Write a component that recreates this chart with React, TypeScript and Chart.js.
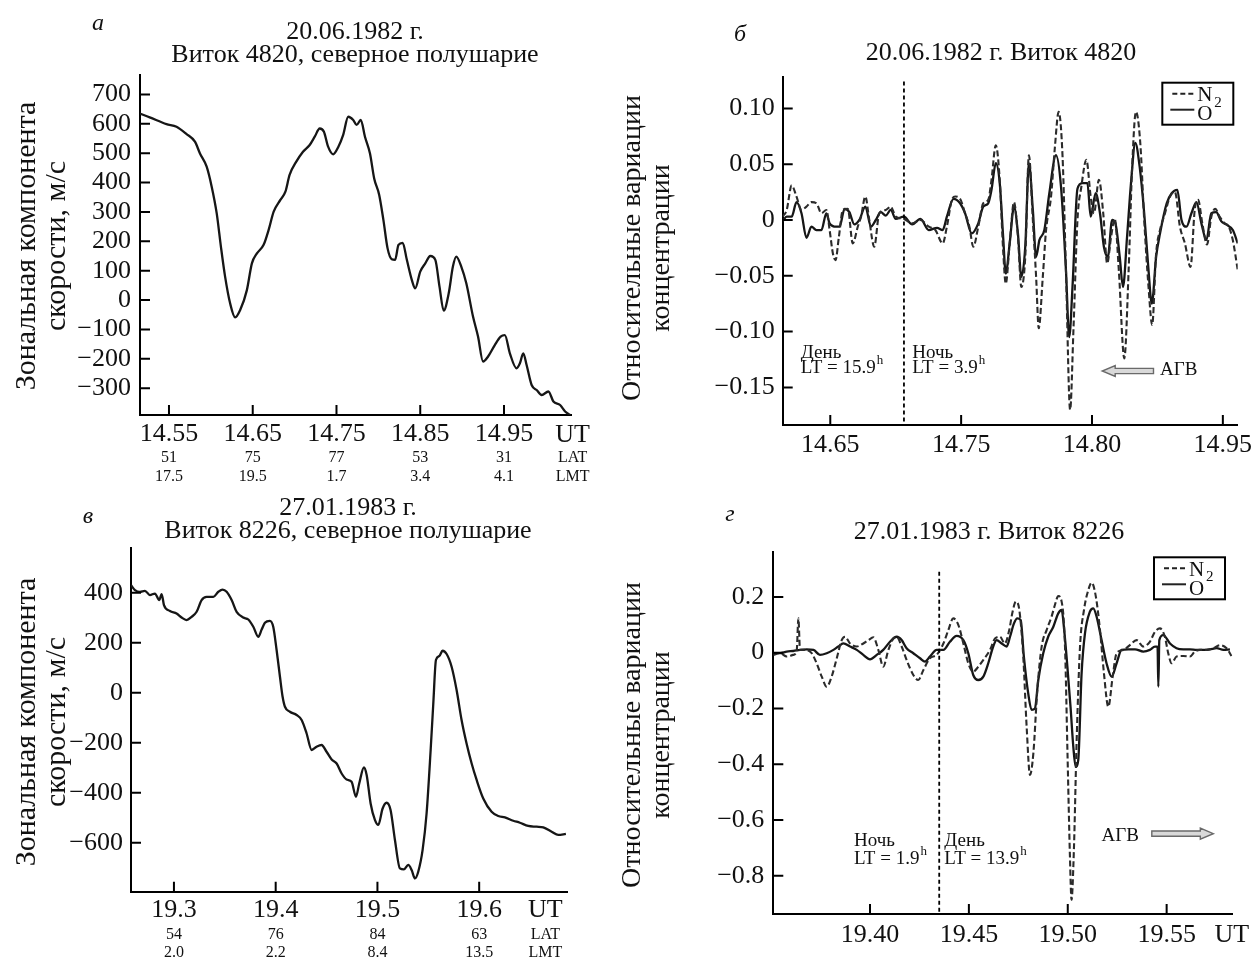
import React, { useEffect, useRef } from 'react';
import { Chart, registerables } from 'chart.js';

Chart.register(...registerables);

const SERIF = '"Liberation Serif", "Times New Roman", Times, serif';

// ---------- Panel а: zonal wind, orbit 4820 ----------
const aUT = [14.515, 14.527, 14.547, 14.559, 14.571, 14.581, 14.587, 14.595, 14.601, 14.607, 14.612, 14.617, 14.623, 14.629, 14.635, 14.643, 14.649, 14.655, 14.663, 14.669, 14.675, 14.683, 14.689, 14.694, 14.702, 14.710, 14.718, 14.724, 14.730, 14.735, 14.740, 14.746, 14.752, 14.758, 14.764, 14.770, 14.774, 14.779, 14.784, 14.790, 14.795, 14.801, 14.806, 14.811, 14.816, 14.820, 14.824, 14.829, 14.834, 14.840, 14.844, 14.850, 14.856, 14.862, 14.868, 14.873, 14.878, 14.884, 14.889, 14.893, 14.899, 14.905, 14.913, 14.919, 14.925, 14.931, 14.939, 14.946, 14.951, 14.957, 14.965, 14.969, 14.973, 14.977, 14.983, 14.989, 14.995, 15.003, 15.009, 15.017, 15.023, 15.029];
const aSpeed = [635, 622, 599, 590, 565, 539, 499, 454, 386, 295, 182, 80, -11, -59, -34, 34, 125, 159, 188, 239, 301, 341, 369, 426, 471, 505, 528, 556, 584, 573, 522, 496, 520, 562, 624, 613, 596, 613, 556, 499, 414, 358, 273, 176, 139, 137, 188, 195, 137, 68, 40, 97, 125, 150, 137, 46, -36, 23, 114, 148, 114, 57, -56, -124, -209, -192, -153, -124, -119, -181, -232, -215, -181, -221, -289, -306, -323, -311, -345, -357, -379, -391];
const aXTicks = [14.55, 14.65, 14.75, 14.85, 14.95];
const aYTicks = [-300, -200, -100, 0, 100, 200, 300, 400, 500, 600, 700];
const aLAT = ['51', '75', '77', '53', '31'];
const aLMT = ['17.5', '19.5', '1.7', '3.4', '4.1'];

// ---------- Panel б: relative density variations, orbit 4820 ----------
// x is expressed in tick-slot units: 0 -> "14.65", 1 -> "14.75", 2 -> "14.80", 3 -> "14.95"
const bXTickPos = [0, 1, 2, 3];
const bXTickLabels = ['14.65', '14.75', '14.80', '14.95'];
const bYTicks = [-0.15, -0.1, -0.05, 0, 0.05, 0.1];
const bN2X = [-0.364, -0.333, -0.295, -0.258, -0.220, -0.182, -0.144, -0.106, -0.068, -0.030, -0.005, 0.020, 0.040, 0.066, 0.096, 0.134, 0.172, 0.210, 0.235, 0.268, 0.298, 0.336, 0.374, 0.424, 0.462, 0.500, 0.563, 0.626, 0.689, 0.753, 0.803, 0.859, 0.891, 0.929, 0.955, 0.992, 1.030, 1.063, 1.093, 1.131, 1.169, 1.207, 1.232, 1.265, 1.295, 1.321, 1.341, 1.371, 1.404, 1.434, 1.460, 1.490, 1.518, 1.548, 1.573, 1.593, 1.624, 1.649, 1.687, 1.717, 1.745, 1.775, 1.801, 1.833, 1.859, 1.889, 1.919, 1.957, 1.990, 2.015, 2.053, 2.086, 2.116, 2.146, 2.174, 2.205, 2.247, 2.280, 2.306, 2.336, 2.369, 2.399, 2.432, 2.460, 2.490, 2.520, 2.558, 2.596, 2.634, 2.672, 2.710, 2.753, 2.785, 2.811, 2.843, 2.879, 2.912, 2.942, 2.975, 3.013, 3.045, 3.076, 3.114];
const bN2 = [0.003, 0.009, 0.031, 0.021, 0.009, 0.012, 0.016, 0.015, 0.006, 0.009, -0.009, -0.030, -0.036, -0.015, 0.009, 0.010, -0.021, -0.006, 0.003, 0.021, 0.000, -0.024, 0.006, 0.009, 0.012, 0.003, 0.001, -0.003, 0.000, -0.006, -0.009, -0.021, -0.006, 0.018, 0.021, 0.019, 0.006, -0.006, -0.024, -0.006, 0.015, 0.018, 0.036, 0.067, 0.036, -0.027, -0.057, -0.021, 0.016, -0.015, -0.060, -0.033, 0.058, 0.000, -0.051, -0.097, -0.051, -0.009, 0.021, 0.066, 0.097, 0.057, -0.045, -0.170, -0.096, 0.000, 0.030, 0.054, 0.021, 0.006, 0.036, 0.006, -0.039, -0.015, 0.001, -0.045, -0.124, -0.045, 0.045, 0.097, 0.069, 0.000, -0.060, -0.094, -0.030, -0.009, 0.006, 0.021, 0.025, -0.006, -0.021, -0.042, 0.009, 0.018, -0.003, -0.022, 0.003, 0.010, 0.003, -0.003, -0.006, -0.018, -0.045];
const bOX = [-0.364, -0.333, -0.295, -0.258, -0.220, -0.182, -0.144, -0.106, -0.068, -0.030, -0.005, 0.045, 0.071, 0.109, 0.146, 0.184, 0.222, 0.268, 0.311, 0.348, 0.386, 0.424, 0.462, 0.500, 0.563, 0.626, 0.689, 0.753, 0.816, 0.859, 0.891, 0.942, 0.992, 1.030, 1.081, 1.131, 1.169, 1.207, 1.232, 1.265, 1.295, 1.321, 1.341, 1.371, 1.404, 1.434, 1.460, 1.490, 1.518, 1.548, 1.573, 1.598, 1.636, 1.674, 1.725, 1.763, 1.801, 1.826, 1.851, 1.889, 1.927, 1.965, 1.990, 2.028, 2.061, 2.091, 2.121, 2.154, 2.179, 2.212, 2.237, 2.268, 2.298, 2.331, 2.364, 2.399, 2.432, 2.457, 2.490, 2.520, 2.571, 2.609, 2.652, 2.684, 2.722, 2.760, 2.798, 2.836, 2.874, 2.912, 2.949, 2.987, 3.025, 3.076, 3.114];
const bO = [-0.001, 0.003, 0.003, 0.016, 0.006, -0.016, -0.006, -0.009, -0.009, 0.006, -0.003, -0.006, -0.006, 0.010, 0.007, -0.004, 0.000, 0.012, -0.006, 0.000, 0.007, 0.004, 0.009, 0.001, 0.003, -0.004, 0.001, -0.009, -0.007, -0.009, 0.003, 0.019, 0.015, 0.006, -0.012, -0.003, 0.012, 0.015, 0.027, 0.051, 0.033, -0.015, -0.048, -0.021, 0.012, -0.012, -0.051, -0.024, 0.051, 0.009, -0.033, -0.018, -0.009, 0.024, 0.058, 0.030, -0.045, -0.105, -0.060, 0.028, 0.033, 0.033, 0.003, 0.024, 0.006, -0.024, -0.033, 0.000, -0.003, -0.033, -0.060, -0.015, 0.033, 0.069, 0.048, 0.006, -0.045, -0.075, -0.033, -0.012, 0.015, 0.024, 0.027, 0.000, -0.006, 0.006, 0.016, -0.003, -0.018, 0.006, 0.007, -0.001, -0.004, -0.009, -0.021];
const bTerminator = 0.563;

// ---------- Panel в: zonal wind, orbit 8226 ----------
const cUT = [19.2577, 19.2617, 19.2666, 19.2715, 19.2764, 19.2813, 19.2856, 19.2879, 19.2902, 19.2961, 19.3026, 19.3075, 19.3124, 19.3174, 19.3223, 19.3272, 19.3321, 19.3387, 19.3436, 19.3478, 19.3518, 19.3567, 19.3616, 19.3681, 19.3731, 19.3780, 19.3829, 19.3862, 19.3894, 19.3943, 19.3976, 19.4009, 19.4042, 19.4068, 19.4091, 19.4140, 19.4206, 19.4255, 19.4304, 19.4353, 19.4402, 19.4451, 19.4500, 19.4550, 19.4599, 19.4648, 19.4697, 19.4746, 19.4789, 19.4821, 19.4867, 19.4894, 19.4933, 19.4975, 19.5008, 19.5051, 19.5090, 19.5129, 19.5172, 19.5221, 19.5260, 19.5303, 19.5336, 19.5369, 19.5401, 19.5444, 19.5483, 19.5523, 19.5549, 19.5575, 19.5608, 19.5640, 19.5680, 19.5729, 19.5778, 19.5827, 19.5876, 19.5926, 19.5975, 19.6040, 19.6122, 19.6188, 19.6253, 19.6335, 19.6400, 19.6482, 19.6564, 19.6630, 19.6712, 19.6777, 19.6852];
const cSpeed = [431, 411, 404, 408, 391, 397, 371, 395, 351, 327, 317, 301, 291, 304, 324, 371, 384, 384, 404, 413, 404, 371, 324, 301, 293, 264, 224, 253, 280, 288, 264, 171, 64, -16, -56, -76, -89, -109, -163, -229, -216, -209, -236, -267, -283, -323, -347, -356, -416, -363, -299, -329, -443, -509, -529, -463, -440, -469, -589, -703, -707, -689, -709, -743, -716, -629, -483, -229, -43, 131, 147, 168, 155, 104, 11, -109, -203, -283, -349, -423, -476, -493, -499, -512, -520, -533, -536, -539, -556, -569, -565];
const cXTicks = [19.3, 19.4, 19.5, 19.6];
const cYTicks = [-600, -400, -200, 0, 200, 400];
const cLAT = ['54', '76', '84', '63'];
const cLMT = ['2.0', '2.2', '8.4', '13.5'];

// ---------- Panel г: relative density variations, orbit 8226 ----------
const dXTicks = [19.4, 19.45, 19.5, 19.55];
const dYTicks = [-0.8, -0.6, -0.4, -0.2, 0, 0.2];
const dN2UT = [19.3511, 19.3545, 19.3579, 19.3612, 19.3629, 19.3638, 19.3646, 19.3671, 19.3705, 19.3730, 19.3756, 19.3781, 19.3806, 19.3832, 19.3857, 19.3874, 19.3899, 19.3933, 19.3966, 19.3992, 19.4017, 19.4042, 19.4067, 19.4093, 19.4118, 19.4135, 19.4160, 19.4185, 19.4219, 19.4244, 19.4270, 19.4303, 19.4337, 19.4371, 19.4396, 19.4421, 19.4447, 19.4472, 19.4497, 19.4522, 19.4548, 19.4573, 19.4607, 19.4632, 19.4657, 19.4682, 19.4704, 19.4721, 19.4738, 19.4755, 19.4775, 19.4792, 19.4809, 19.4826, 19.4846, 19.4868, 19.4893, 19.4918, 19.4935, 19.4952, 19.4969, 19.4986, 19.4999, 19.5011, 19.5019, 19.5031, 19.5045, 19.5062, 19.5082, 19.5104, 19.5121, 19.5142, 19.5163, 19.5183, 19.5205, 19.5227, 19.5247, 19.5281, 19.5314, 19.5348, 19.5382, 19.5415, 19.5441, 19.5466, 19.5491, 19.5508, 19.5525, 19.5550, 19.5584, 19.5618, 19.5643, 19.5668, 19.5702, 19.5736, 19.5769, 19.5803, 19.5828];
const dN2 = [-0.008, -0.002, -0.014, -0.008, 0.004, 0.123, 0.010, 0.010, -0.002, -0.038, -0.086, -0.122, -0.086, -0.020, 0.045, 0.057, 0.033, 0.022, 0.033, 0.045, 0.055, 0.010, -0.050, 0.010, 0.051, 0.057, 0.022, -0.026, -0.080, -0.098, -0.062, -0.020, -0.008, 0.033, 0.081, 0.123, 0.099, 0.033, -0.038, -0.068, -0.050, -0.026, 0.010, 0.051, 0.057, 0.033, 0.081, 0.147, 0.183, 0.153, -0.014, -0.265, -0.438, -0.361, -0.134, 0.022, 0.081, 0.129, 0.171, 0.203, 0.183, 0.022, -0.373, -0.731, -0.886, -0.707, -0.313, 0.022, 0.153, 0.225, 0.251, 0.201, 0.081, -0.074, -0.194, -0.086, -0.002, 0.010, 0.027, 0.045, 0.022, 0.039, 0.075, 0.087, 0.057, -0.002, -0.038, -0.014, -0.012, -0.014, 0.004, 0.010, 0.010, 0.016, 0.027, 0.016, -0.012];
const dOUT = [19.3511, 19.3545, 19.3579, 19.3612, 19.3646, 19.3680, 19.3714, 19.3747, 19.3781, 19.3815, 19.3840, 19.3865, 19.3899, 19.3933, 19.3966, 19.4000, 19.4034, 19.4067, 19.4101, 19.4135, 19.4160, 19.4185, 19.4219, 19.4253, 19.4278, 19.4303, 19.4337, 19.4371, 19.4404, 19.4438, 19.4472, 19.4497, 19.4522, 19.4548, 19.4573, 19.4598, 19.4623, 19.4640, 19.4666, 19.4691, 19.4708, 19.4728, 19.4745, 19.4762, 19.4778, 19.4800, 19.4817, 19.4834, 19.4851, 19.4876, 19.4901, 19.4927, 19.4952, 19.4969, 19.4982, 19.4998, 19.5014, 19.5028, 19.5040, 19.5053, 19.5070, 19.5087, 19.5112, 19.5129, 19.5146, 19.5171, 19.5196, 19.5222, 19.5247, 19.5272, 19.5306, 19.5340, 19.5382, 19.5415, 19.5441, 19.5454, 19.5458, 19.5463, 19.5483, 19.5517, 19.5550, 19.5584, 19.5618, 19.5652, 19.5685, 19.5719, 19.5753, 19.5787, 19.5820];
const dO = [-0.002, -0.002, 0.004, 0.006, 0.010, 0.012, 0.010, -0.008, -0.002, 0.010, 0.022, 0.033, 0.022, 0.010, -0.008, -0.024, -0.008, 0.010, 0.039, 0.057, 0.045, 0.016, -0.002, -0.020, -0.032, -0.014, 0.010, 0.010, 0.039, 0.060, 0.045, -0.002, -0.080, -0.098, -0.086, -0.038, 0.022, 0.045, 0.033, 0.022, 0.057, 0.105, 0.123, 0.117, -0.014, -0.146, -0.205, -0.200, -0.098, -0.002, 0.057, 0.093, 0.141, 0.153, 0.081, -0.050, -0.194, -0.337, -0.409, -0.385, -0.074, 0.069, 0.147, 0.159, 0.129, 0.045, -0.038, -0.086, -0.038, 0.010, 0.012, 0.012, 0.004, 0.010, 0.022, 0.022, -0.122, 0.045, 0.063, 0.033, 0.016, 0.012, 0.012, 0.010, 0.010, 0.012, 0.016, 0.010, 0.012];
const dTerminator = 19.435;

// ---------- helpers ----------
const minus = (s: string) => s.replace('-', '\u2212');
const fmtInt = (v: number) => minus(String(Math.round(v)));
const fmtFix = (d: number) => (v: number) => (Math.abs(v) < 1e-9 ? '0' : minus(v.toFixed(d)));

function series(xs: number[], ys: number[], dashed: boolean) {
  return {
    data: xs.map((x, i) => ({ x, y: ys[i] })),
    borderColor: dashed ? '#2b2b2b' : '#161616',
    borderWidth: dashed ? 2.1 : 2.3,
    borderDash: dashed ? [6, 3] : [],
    pointRadius: 0,
    fill: false,
    cubicInterpolationMode: 'monotone' as const,
  };
}

function axis(min: number, max: number, ticks: number[], fmt: (v: number, i: number) => string, pad: number, fit: 'width' | 'height', fitVal: number) {
  return {
    type: 'linear' as const,
    min,
    max,
    grid: { display: false, drawTicks: false },
    border: { display: true, color: '#000', width: 2 },
    ticks: {
      color: '#111',
      font: { family: SERIF, size: 26 },
      padding: pad,
      maxRotation: 0,
      autoSkip: false,
      callback: (v: any, i: number) => fmt(Number(v), i),
    },
    afterBuildTicks: (s: any) => {
      s.ticks = ticks.map((v) => ({ value: v }));
    },
    afterFit: (s: any) => {
      s[fit] = fitVal;
    },
  };
}

function drawArrow(ctx: CanvasRenderingContext2D, xTail: number, xTip: number, y: number) {
  const dir = Math.sign(xTip - xTail);
  const hl = 13;
  const sh = 2.6;
  const hh = 5.5;
  ctx.beginPath();
  ctx.moveTo(xTail, y - sh);
  ctx.lineTo(xTip - dir * hl, y - sh);
  ctx.lineTo(xTip - dir * hl, y - hh);
  ctx.lineTo(xTip, y);
  ctx.lineTo(xTip - dir * hl, y + hh);
  ctx.lineTo(xTip - dir * hl, y + sh);
  ctx.lineTo(xTail, y + sh);
  ctx.closePath();
  ctx.fillStyle = '#d9d9d9';
  ctx.fill();
  ctx.strokeStyle = '#6a6a6a';
  ctx.lineWidth = 1.4;
  ctx.stroke();
}

const decor = {
  id: 'decor',
  afterDraw(chart: any, _a: any, o: any) {
    const { ctx, chartArea: area } = chart;
    const xs = chart.scales.x;
    const ys = chart.scales.y;
    ctx.save();
    // inward tick marks
    ctx.strokeStyle = '#000';
    ctx.lineWidth = 2;
    ctx.setLineDash([]);
    ctx.beginPath();
    xs.ticks.forEach((t: any) => {
      const p = xs.getPixelForValue(t.value);
      ctx.moveTo(p, area.bottom);
      ctx.lineTo(p, area.bottom - 10);
    });
    ys.ticks.forEach((t: any) => {
      const p = ys.getPixelForValue(t.value);
      ctx.moveTo(area.left, p);
      ctx.lineTo(area.left + 10, p);
    });
    ctx.stroke();

    // day / night terminator
    if (o.divider) {
      const p = xs.getPixelForValue(o.divider.x);
      const top = ys.getPixelForValue(o.divider.top);
      ctx.setLineDash([4, 3]);
      ctx.lineWidth = 1.8;
      ctx.beginPath();
      ctx.moveTo(p, top);
      ctx.lineTo(p, area.bottom);
      ctx.stroke();
      ctx.setLineDash([]);
    }

    ctx.fillStyle = '#111';
    // fixed texts (titles, panel letters, axis titles)
    (o.texts || []).forEach((t: any) => {
      ctx.font = `${t.italic ? 'italic ' : ''}${t.size}px ${SERIF}`;
      ctx.textAlign = 'center';
      ctx.textBaseline = 'middle';
      if (t.rotate) {
        ctx.save();
        ctx.translate(t.x, t.y);
        ctx.rotate(-Math.PI / 2);
        ctx.fillText(t.text, 0, 0);
        ctx.restore();
      } else {
        ctx.fillText(t.text, t.x, t.y);
      }
    });

    // rows of LAT / LMT under the axis, and UT label
    if (o.rows) {
      o.rows.forEach((r: any) => {
        ctx.font = `16px ${SERIF}`;
        ctx.textAlign = 'center';
        ctx.textBaseline = 'middle';
        r.labels.forEach((lab: string, i: number) => {
          ctx.fillText(lab, xs.getPixelForValue(r.at[i]), r.y);
        });
        ctx.fillText(r.tail, xs.getPixelForValue(o.tailX), r.y);
      });
    }
    if (o.ut) {
      ctx.font = `26px ${SERIF}`;
      ctx.textAlign = 'center';
      ctx.textBaseline = 'middle';
      ctx.fillText('UT', xs.getPixelForValue(o.ut.x), o.ut.y);
    }

    // notes in data coordinates
    (o.notes || []).forEach((n: any) => {
      const px = xs.getPixelForValue(n.x);
      const py = ys.getPixelForValue(n.y);
      ctx.font = `19px ${SERIF}`;
      ctx.textAlign = 'left';
      ctx.textBaseline = 'middle';
      ctx.fillText(n.text, px, py);
      if (n.sup) {
        const w = ctx.measureText(n.text).width;
        ctx.font = `13px ${SERIF}`;
        ctx.fillText(n.sup, px + w + 1, py - 7);
      }
    });

    if (o.arrow) {
      drawArrow(ctx, xs.getPixelForValue(o.arrow.tail), xs.getPixelForValue(o.arrow.tip), ys.getPixelForValue(o.arrow.y));
    }

    // legend box
    if (o.legend) {
      const w = 71;
      const h = 42;
      const L = area.right - o.legend.inset - w;
      const T = area.top + o.legend.top;
      ctx.fillStyle = '#fff';
      ctx.fillRect(L, T, w, h);
      ctx.strokeStyle = '#000';
      ctx.lineWidth = 2;
      ctx.strokeRect(L, T, w, h);
      ctx.lineWidth = 2;
      ctx.strokeStyle = '#222';
      ctx.setLineDash([5, 3]);
      ctx.beginPath();
      ctx.moveTo(L + 10, T + 11);
      ctx.lineTo(L + 33, T + 11);
      ctx.stroke();
      ctx.setLineDash([]);
      ctx.beginPath();
      ctx.moveTo(L + 8, T + 27);
      ctx.lineTo(L + 32, T + 27);
      ctx.stroke();
      ctx.fillStyle = '#111';
      ctx.textAlign = 'left';
      ctx.textBaseline = 'middle';
      ctx.font = `21px ${SERIF}`;
      ctx.fillText('N', L + 35, T + 13);
      ctx.fillText('O', L + 35, T + 32);
      ctx.font = `15px ${SERIF}`;
      ctx.fillText('2', L + 52, T + 20);
    }
    ctx.restore();
  },
};

type PanelDef = {
  left: number;
  top: number;
  width: number;
  height: number;
  build: () => any;
};

function Panel({ def }: { def: PanelDef }) {
  const ref = useRef<HTMLCanvasElement | null>(null);
  useEffect(() => {
    const chart = new Chart(ref.current as HTMLCanvasElement, def.build());
    return () => chart.destroy();
  }, [def]);
  return (
    <canvas
      ref={ref}
      width={def.width}
      height={def.height}
      style={{ position: 'absolute', left: def.left, top: def.top, width: def.width, height: def.height }}
    />
  );
}

function baseOptions(pad: any, decorOpts: any, x: any, y: any) {
  return {
    responsive: false,
    maintainAspectRatio: false,
    animation: false,
    devicePixelRatio: 1,
    layout: { padding: pad },
    plugins: { legend: { display: false }, tooltip: { enabled: false }, title: { display: false }, decor: decorOpts },
    scales: { x, y },
  };
}

const panelA: PanelDef = {
  left: 0,
  top: 0,
  width: 600,
  height: 490,
  build: () => ({
    type: 'line',
    data: { datasets: [series(aUT, aSpeed, false)] },
    plugins: [decor],
    options: baseOptions(
      { left: 0, top: 75, right: 29, bottom: 0 },
      {
        texts: [
          { text: 'а', x: 98, y: 24, size: 24, italic: true },
          { text: '20.06.1982 г.', x: 355, y: 32, size: 26 },
          { text: 'Виток 4820, северное полушарие', x: 355, y: 55, size: 26 },
          { text: 'Зональная компонента', x: 27, y: 246, size: 30, rotate: true },
          { text: 'скорости, м/с', x: 57, y: 246, size: 30, rotate: true },
        ],
        rows: [
          { y: 458, labels: aLAT, at: aXTicks, tail: 'LAT' },
          { y: 477, labels: aLMT, at: aXTicks, tail: 'LMT' },
        ],
        tailX: 15.032,
        ut: { x: 15.032, y: 435 },
      },
      axis(14.5154, 15.03, aXTicks, (v) => v.toFixed(2), 4, 'height', 75),
      axis(-391, 766, aYTicks, fmtInt, 9, 'width', 140)
    ),
  }),
};

const panelB: PanelDef = {
  left: 600,
  top: 0,
  width: 657,
  height: 490,
  build: () => ({
    type: 'line',
    data: { datasets: [series(bN2X, bN2, true), series(bOX, bO, false)] },
    plugins: [decor],
    options: baseOptions(
      { left: 0, top: 76.7, right: 15.3, bottom: 0 },
      {
        texts: [
          { text: 'б', x: 140, y: 35, size: 24, italic: true },
          { text: '20.06.1982 г. Виток 4820', x: 401, y: 53, size: 26 },
          { text: 'Относительные вариации', x: 33, y: 248, size: 28, rotate: true },
          { text: 'концентрации', x: 62, y: 248, size: 28, rotate: true },
        ],
        divider: { x: bTerminator, top: 0.124 },
        notes: [
          { text: 'День', x: -0.225, y: -0.119 },
          { text: 'LT = 15.9', sup: 'h', x: -0.225, y: -0.1326 },
          { text: 'Ночь', x: 0.626, y: -0.119 },
          { text: 'LT = 3.9', sup: 'h', x: 0.626, y: -0.1326 },
          { text: 'АГВ', x: 2.52, y: -0.134 },
        ],
        arrow: { tail: 2.47, tip: 2.078, y: -0.1353 },
        legend: { inset: 4.4, top: 6 },
      },
      axis(-0.3636, 3.1136, bXTickPos, (_v, i) => bXTickLabels[i] ?? '', 4.4, 'height', 65),
      axis(-0.1837, 0.1284, bYTicks, fmtFix(2), 8, 'width', 182.7)
    ),
  }),
};

const panelC: PanelDef = {
  left: 0,
  top: 490,
  width: 600,
  height: 471,
  build: () => ({
    type: 'line',
    data: { datasets: [series(cUT, cSpeed, false)] },
    plugins: [decor],
    options: baseOptions(
      { left: 0, top: 58.3, right: 32.7, bottom: 0 },
      {
        texts: [
          { text: 'в', x: 88, y: 27, size: 24, italic: true },
          { text: '27.01.1983 г.', x: 348, y: 18, size: 26 },
          { text: 'Виток 8226, северное полушарие', x: 348, y: 41, size: 26 },
          { text: 'Зональная компонента', x: 27, y: 232, size: 30, rotate: true },
          { text: 'скорости, м/с', x: 57, y: 232, size: 30, rotate: true },
        ],
        rows: [
          { y: 444.3, labels: cLAT, at: cXTicks, tail: 'LAT' },
          { y: 462.7, labels: cLMT, at: cXTicks, tail: 'LMT' },
        ],
        tailX: 19.665,
        ut: { x: 19.665, y: 420 },
      },
      axis(19.2578, 19.6866, cXTicks, (v) => v.toFixed(1), 2.7, 'height', 69.3),
      axis(-796, 578, cYTicks, fmtInt, 8, 'width', 131)
    ),
  }),
};

const panelD: PanelDef = {
  left: 600,
  top: 490,
  width: 657,
  height: 471,
  build: () => ({
    type: 'line',
    data: { datasets: [series(dN2UT, dN2, true), series(dOUT, dO, false)] },
    plugins: [decor],
    options: baseOptions(
      { left: 0, top: 61.7, right: 24.7, bottom: 0 },
      {
        texts: [
          { text: 'г', x: 130, y: 25, size: 24, italic: true },
          { text: '27.01.1983 г. Виток 8226', x: 389, y: 42, size: 26 },
          { text: 'Относительные вариации', x: 33, y: 245, size: 28, rotate: true },
          { text: 'концентрации', x: 62, y: 245, size: 28, rotate: true },
        ],
        divider: { x: dTerminator, top: 0.29 },
        notes: [
          { text: 'Ночь', x: 19.3919, y: -0.674 },
          { text: 'LT = 1.9', sup: 'h', x: 19.3919, y: -0.739 },
          { text: 'День', x: 19.4376, y: -0.674 },
          { text: 'LT = 13.9', sup: 'h', x: 19.4376, y: -0.739 },
          { text: 'АГВ', x: 19.5171, y: -0.656 },
        ],
        arrow: { tail: 19.5425, tip: 19.5736, y: -0.649 },
        legend: { inset: 7.3, top: 5.6 },
        ut: { x: 19.5829, y: 445 },
      },
      axis(19.3511, 19.5832, dXTicks, (v) => v.toFixed(2), 5.4, 'height', 47),
      axis(-0.937, 0.362, dYTicks, fmtFix(1), 9, 'width', 173.3)
    ),
  }),
};

const PANELS = [panelA, panelB, panelC, panelD];

export default function App() {
  return (
    <div style={{ position: 'absolute', left: 0, top: 0, width: 1257, height: 961, background: '#fff', overflow: 'hidden' }}>
      {PANELS.map((p, i) => (
        <Panel key={i} def={p} />
      ))}
    </div>
  );
}
